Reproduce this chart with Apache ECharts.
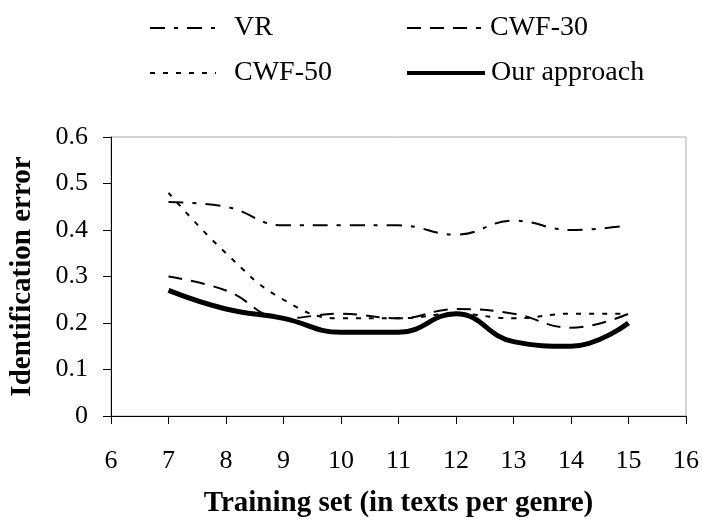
<!DOCTYPE html>
<html>
<head>
<meta charset="utf-8">
<script src="https://cdn.jsdelivr.net/npm/echarts@6/dist/echarts.min.js"></script>
<style>
html,body{margin:0;padding:0;background:#fff;}
#chart{width:702px;height:527px;}
</style>
</head>
<body>
<div id="chart"></div>
<script>
// Data
var xValues = [7, 8, 9, 10, 11, 12, 13, 14, 15];
var vr      = [0.46, 0.45, 0.41, 0.41, 0.41, 0.39, 0.42, 0.40, 0.41];
var cwf30   = [0.30, 0.27, 0.21, 0.22, 0.21, 0.23, 0.22, 0.19, 0.22];
var cwf50   = [0.48, 0.35, 0.25, 0.21, 0.21, 0.22, 0.21, 0.22, 0.22];
var ours    = [0.27, 0.23, 0.21, 0.18, 0.18, 0.22, 0.16, 0.15, 0.20];
var seriesNames = ['VR', 'CWF-30', 'CWF-50', 'Our approach'];
var xAxisName = 'Training set (in texts per genre)';
var yAxisName = 'Identification error';

function pairs(ys){ return xValues.map(function(x,i){ return [x, ys[i]]; }); }

var FONT = '"Liberation Serif", "Times New Roman", serif';
var chart = echarts.init(document.getElementById('chart'), null, {renderer:'canvas'});

function legendAt(name, left, top, itemWidth, padLeft, lineWidth){
  var lg = {
    data: [name], left: left, top: top, padding: 0,
    itemWidth: itemWidth, itemHeight: 14,
    selectedMode: false,
    itemStyle: {opacity: 0},
    textStyle: {fontFamily: FONT, fontSize: 28, color: '#000', padding: [0,0,0,padLeft]}
  };
  if (lineWidth) lg.lineStyle = {width: lineWidth};
  return lg;
}

var option = {
  animation: false,
  backgroundColor: '#fff',
  color: ['#000', '#000', '#000', '#000'],
  legend: [
    legendAt(seriesNames[0], 149, 14, 66, 13),
    legendAt(seriesNames[1], 406, 14, 74, 4),
    legendAt(seriesNames[2], 149, 59, 66, 13),
    legendAt(seriesNames[3], 405, 59, 78, 1, 4)
  ],
  grid: {left: 111, right: 16, top: 137, bottom: 111, show: true, borderColor: '#aaa', borderWidth: 1},
  xAxis: {
    type: 'value', min: 6, max: 16, interval: 1,
    name: xAxisName, nameLocation: 'middle', nameGap: 73,
    nameTextStyle: {fontFamily: FONT, fontSize: 29, fontWeight: 'bold', color: '#000'},
    axisLine: {lineStyle: {color: '#000', width: 1}},
    axisTick: {show: true, length: 8, lineStyle: {color: '#000'}},
    axisLabel: {fontFamily: FONT, fontSize: 26, color: '#000', margin: 32},
    splitLine: {show: false}
  },
  yAxis: {
    type: 'value', min: 0, max: 0.6, interval: 0.1,
    name: yAxisName, nameLocation: 'middle', nameGap: 74, nameRotate: 90,
    nameTextStyle: {fontFamily: FONT, fontSize: 29, fontWeight: 'bold', color: '#000'},
    axisLine: {show: true, lineStyle: {color: '#000', width: 1}},
    axisTick: {show: true, length: 8, lineStyle: {color: '#000'}},
    axisLabel: {fontFamily: FONT, fontSize: 26, color: '#000', margin: 23},
    splitLine: {show: false}
  },
  series: [
    {name: seriesNames[0], type: 'line', data: pairs(vr), smooth: 0.45, symbol: 'none',
     itemStyle: {color: '#000'},
     lineStyle: {color: '#000', width: 2, type: [15, 9, 4, 9]}},
    {name: seriesNames[1], type: 'line', data: pairs(cwf30), smooth: 0.45, symbol: 'none',
     itemStyle: {color: '#000'},
     lineStyle: {color: '#000', width: 2, type: [14, 9]}},
    {name: seriesNames[2], type: 'line', data: pairs(cwf50), smooth: 0.45, symbol: 'none',
     itemStyle: {color: '#000'},
     lineStyle: {color: '#000', width: 2, type: [5, 8]}},
    {name: seriesNames[3], type: 'line', data: pairs(ours), smooth: 0.45, symbol: 'none',
     itemStyle: {color: '#000'},
     lineStyle: {color: '#000', width: 5, type: 'solid'}}
  ]
};
chart.setOption(option);
</script>
</body>
</html>
